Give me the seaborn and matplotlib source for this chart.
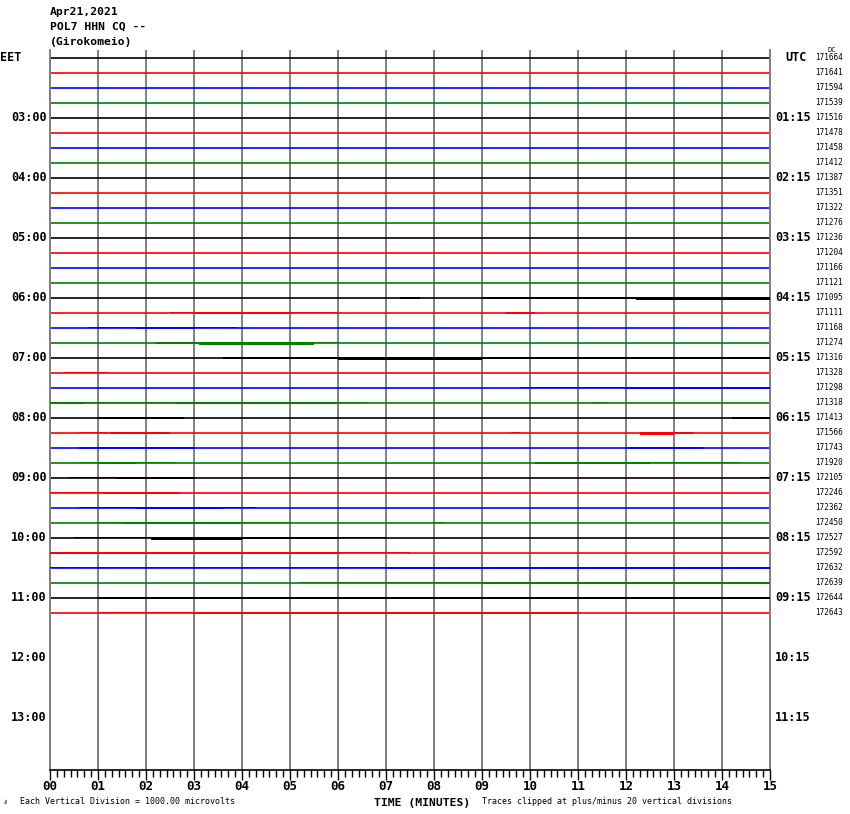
import matplotlib
matplotlib.use("Agg")
import matplotlib.pyplot as plt
import matplotlib.transforms as mtransforms
import seaborn as sns
import pandas as pd
import numpy as np

title_lines = ["Apr21,2021", "POL7 HHN CQ --", "(Girokomeio)"]
trace_colors = ["black", "red", "blue", "green"]
n_rows_shown = 48
dc_values = [171664, 171641, 171594, 171539, 171516, 171478, 171458, 171412,
             171387, 171351, 171322, 171276, 171236, 171204, 171166, 171121,
             171095, 171111, 171168, 171274, 171316, 171328, 171298, 171318,
             171413, 171566, 171743, 171920, 172105, 172246, 172362, 172450,
             172527, 172592, 172632, 172639, 172644, 172643]
label_rows = [0, 4, 8, 12, 16, 20, 24, 28, 32, 36, 40, 44]
eet_labels = ["EET", "03:00", "04:00", "05:00", "06:00", "07:00", "08:00",
              "09:00", "10:00", "11:00", "12:00", "13:00"]
utc_labels = ["UTC", "01:15", "02:15", "03:15", "04:15", "05:15", "06:15",
              "07:15", "08:15", "09:15", "10:15", "11:15"]
minute_labels = ["%02d" % m for m in range(16)]

# noisy stretches of each trace: row, start minute, end minute, half-amplitude (rows)
noise_row = [16, 16, 16, 17, 17, 17, 17, 18, 18, 18, 19, 19, 19, 20, 20, 20,
             21, 22, 22, 23, 23, 23, 23, 23, 23, 24, 24, 25, 25, 25, 25, 25,
             26, 26, 27, 27, 27, 27, 27, 27, 28, 28, 28, 28, 29, 29, 30, 30, 30,
             31, 31, 31, 31, 32, 32, 32, 32, 33, 33, 33, 34, 34, 35, 35, 36,
             37, 37]
noise_start = [7.3, 9.0, 12.2, 2.5, 3.0, 5.0, 9.5, 0.8, 1.8, 3.0, 2.2, 3.1, 5.5,
               3.6, 6.0, 9.0, 0.3, 9.8, 12.0, 0.0, 0.7, 2.6, 4.0, 6.0, 11.3,
               1.0, 14.2, 0.6, 1.25, 9.6, 12.3, 13.0, 0.6, 12.0, 0.6, 1.0, 1.8,
               10.1, 12.0, 12.5, 0.4, 1.4, 2.1, 14.8, 0.0, 1.1, 0.6, 1.8, 3.6,
               1.0, 1.5, 4.0, 8.0, 0.5, 2.1, 4.0, 6.0, 0.0, 2.0, 6.0, 0.0, 7.0,
               5.2, 9.0, 1.0, 1.0, 3.0]
noise_end = [7.7, 12.2, 15.0, 3.0, 5.0, 6.0, 10.1, 1.8, 3.0, 3.9, 3.1, 5.5, 6.0,
             6.0, 9.0, 15.0, 1.2, 12.0, 15.0, 0.7, 2.6, 4.0, 6.0, 6.6, 11.6,
             2.8, 15.0, 1.2, 2.5, 9.8, 13.0, 13.4, 3.0, 13.6, 1.0, 1.8, 2.6,
             12.0, 12.5, 14.4, 1.4, 2.1, 3.0, 15.0, 1.1, 2.7, 1.8, 3.6, 4.3,
             1.5, 4.0, 5.0, 8.2, 2.1, 4.0, 6.0, 7.0, 2.0, 6.0, 7.5, 7.0, 15.0,
             9.0, 15.0, 15.0, 3.0, 11.0]
noise_amp = [0.12, 0.08, 0.15, 0.06, 0.12, 0.06, 0.08, 0.06, 0.12, 0.06, 0.08,
             0.14, 0.05, 0.08, 0.14, 0.12, 0.06, 0.06, 0.12, 0.12, 0.06, 0.12,
             0.08, 0.04, 0.06, 0.12, 0.12, 0.04, 0.12, 0.05, 0.14, 0.08, 0.08,
             0.10, 0.05, 0.12, 0.06, 0.07, 0.13, 0.05, 0.06, 0.12, 0.07, 0.05,
             0.05, 0.12, 0.05, 0.10, 0.05, 0.06, 0.13, 0.05, 0.05, 0.05, 0.16,
             0.10, 0.04, 0.10, 0.07, 0.04, 0.05, 0.08, 0.05, 0.08, 0.07, 0.05,
             0.07]

# ---- build tables ----
n_traces = len(dc_values)
traces = pd.DataFrame({
    "row": np.repeat(np.arange(n_traces), 2),
    "minute": np.tile([0.0, 15.0], n_traces),
})
traces["y"] = traces["row"]
noise = pd.DataFrame({"row": noise_row, "start": noise_start,
                      "end": noise_end, "amp": noise_amp})

sns.set_style("white")
plt.rcParams["font.family"] = ["DejaVu Sans Mono", "DejaVu Sans"]
plt.rcParams["text.color"] = "black"
plt.rcParams["xtick.color"] = "black"
plt.rcParams["xtick.labelcolor"] = "black"

fig = plt.figure(figsize=(8.5, 8.14), dpi=100)
W, H = 850, 814
ax = fig.add_axes([50 / W, (H - 770) / H, 720 / W, 720 / H])

# minute grid
for m in range(16):
    ax.axvline(m, color="#808080", lw=1.4, zorder=1)

palette = {r: trace_colors[r % 4] for r in range(n_traces)}
sns.lineplot(data=traces, x="minute", y="y", hue="row", units="row",
             estimator=None, palette=palette, legend=False, lw=1.2, ax=ax,
             zorder=2)

for _, s in noise.iterrows():
    r = int(s["row"])
    ax.fill_between([s["start"], s["end"]], r - s["amp"] * 0.4, r + s["amp"],
                    color=trace_colors[r % 4], lw=0, zorder=3)

ax.set_xlim(0, 15)
ax.set_ylim(n_rows_shown - 0.5, -0.5)
ax.set_xlabel("")
ax.set_ylabel("")
ax.set_yticks([])
ax.set_xticks(range(16))
ax.set_xticklabels(minute_labels, fontsize=9, fontweight="bold", color="black")
ax.set_xticks(np.arange(0, 15.0001, 1 / 7), minor=True)
ax.tick_params(axis="x", which="major", length=7, width=1.0, color="black",
               pad=0.5, direction="out")
ax.tick_params(axis="x", which="minor", length=5, width=1.0, color="black",
               direction="out")
ax.xaxis.set_ticks_position("bottom")
ax.spines["top"].set_visible(False)
for side in ["left", "right"]:
    ax.spines[side].set_color("#808080")
    ax.spines[side].set_linewidth(1.4)
ax.spines["bottom"].set_color("black")
ax.spines["bottom"].set_linewidth(1.2)

# hour labels left (EET) and right (UTC)
trans_l = mtransforms.blended_transform_factory(fig.transFigure, ax.transData)
for r, le, lu in zip(label_rows, eet_labels, utc_labels):
    if le == "EET":
        ax.text(0 / W, r, le, transform=trans_l, ha="left", va="center",
                fontsize=8.5, fontweight="bold")
        ax.text(785 / W, r, lu, transform=trans_l, ha="left", va="center",
                fontsize=8.5, fontweight="bold")
    else:
        ax.text(47 / W, r, le, transform=trans_l, ha="right", va="center",
                fontsize=8.5, fontweight="bold")
        ax.text(775 / W, r, lu, transform=trans_l, ha="left", va="center",
                fontsize=8.5, fontweight="bold")

for r, v in enumerate(dc_values):
    ax.text(815 / W, r, str(v), transform=trans_l, ha="left", va="center",
            fontsize=5.5)
fig.text(827 / W, 1 - 50 / H, "DC", fontsize=5, ha="left", va="center")

# header
for i, line in enumerate(title_lines):
    fig.text(50 / W, 1 - (12 + 15 * i) / H, line, fontsize=8.2,
             fontweight="bold", ha="left", va="center")

# footer
fig.text(422 / W, 1 - 803 / H, "TIME (MINUTES)", fontsize=8.2,
         fontweight="bold", ha="center", va="center")
fig.text(20 / W, 1 - 802 / H, "Each Vertical Division = 1000.00 microvolts",
         fontsize=6, ha="left", va="center")
fig.text(482 / W, 1 - 802 / H,
         "Traces clipped at plus/minus 20 vertical divisions",
         fontsize=6, ha="left", va="center")
fig.text(3 / W, 1 - 803 / H, "\u2202", fontsize=4, ha="left", va="center")

fig.savefig("out.png", dpi=100)
